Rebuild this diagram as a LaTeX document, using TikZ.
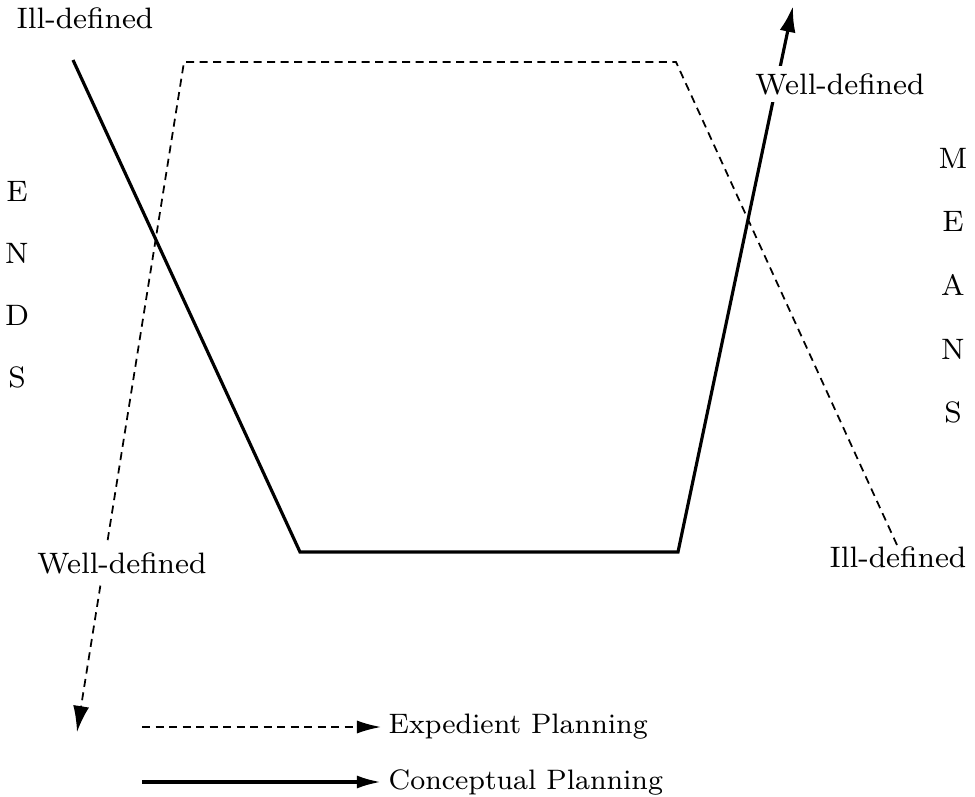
\documentclass[tikz,border=0pt]{standalone}
\usetikzlibrary{arrows.meta}

\tikzstyle{conceptual}=[line width=0.9pt]
\tikzstyle{expedient}=[line width=0.5pt,dash pattern=on 0.8mm off 0.55mm]
\tikzstyle{lbl}=[inner sep=2pt,font=\fontsize{8.4}{10}\selectfont]
\tikzstyle{key}=[inner sep=2pt,font=\fontsize{8}{10}\selectfont]

\begin{document}
\begin{tikzpicture}[x=0.01cm,y=-0.01cm]
			\useasboundingbox (0,0) rectangle (975,797);
			\begin{scope}[>={Latex[length=2.6mm,width=1.6mm]}]
				% conceptual planning path
				\coordinate (C1) at (73,60);
				\coordinate (C2) at (300,552);
				\coordinate (C3) at (678,552);
				\coordinate (C4) at (793,6);
				% expedient planning path
				\coordinate (X1) at (897,545);
				\coordinate (X2) at (676,62);
				\coordinate (X3) at (184,62);
				\coordinate (X4) at (77,732);

				\draw[expedient,->] (X1) -- (X2) -- (X3) -- (X4);
				\draw[conceptual,->] (C1) -- (C2) -- (C3) -- (C4);

				\node (IllTop)[lbl] at (85,18) {Ill-defined};
				\node (WellTop)[lbl,fill=white] at (840,84) {Well-defined};
				\node (WellBot)[lbl,fill=white] at (122,563) {Well-defined};
				\node (IllBot)[lbl] at (898,557) {Ill-defined};

				\foreach \ch [count=\nr] in {E,N,D,S}
					\node (End\nr)[lbl] at (17,{191+62*(\nr-1)}) {\ch};
				\foreach \ch [count=\nr] in {M,E,A,N,S}
					\node (Mean\nr)[lbl] at (953,{158+63.7*(\nr-1)}) {\ch};
			\end{scope}

			% legend
			\begin{scope}[>={Latex[length=2.4mm,width=1.3mm]}]
				\coordinate (LX) at (142,727);
				\coordinate (LC) at (142,782);
				\node (Exp)[key,anchor=west] at (381,727) {Expedient Planning};
				\node (Con)[key,anchor=west] at (381,782) {Conceptual Planning};
				\draw[expedient,->] (LX) -- (Exp.west);
				\draw[conceptual,->] (LC) -- (Con.west);
			\end{scope}
		\end{tikzpicture}
\end{document}
